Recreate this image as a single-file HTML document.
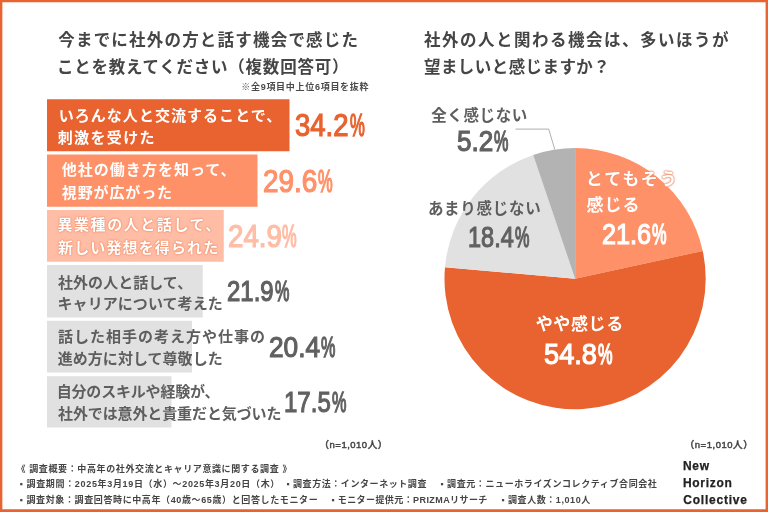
<!DOCTYPE html>
<html lang="ja">
<head>
<meta charset="utf-8">
<title>調査概要：中高年の社外交流とキャリア意識に関する調査</title>
<style>
html,body{margin:0;padding:0;background:#fff;}
body{width:768px;height:512px;overflow:hidden;position:relative;
 font-family:"Liberation Sans","Noto Sans CJK JP",sans-serif;color:#4a4a4a;}
#frame{position:absolute;left:0;top:0;width:768px;height:512px;box-sizing:border-box;
 background:#fff;}
.t{position:absolute;white-space:nowrap;line-height:1;}
.num{position:absolute;white-space:nowrap;line-height:1;font-family:"Liberation Sans",sans-serif;font-weight:700;transform-origin:0 0;}
svg{position:absolute;left:0;top:0;}
</style>
</head>
<body>
<div id="frame"></div>

<!-- bars + pie -->
<svg width="768" height="512" viewBox="0 0 768 512">
 <path d="M0,0H768V512H0Z M2.35,2.3V509.3H765.6V2.3Z" fill="#e8632f" fill-rule="evenodd"/>
 <g id="bars">
  <rect x="47" y="99.25" width="242.5" height="52.00" fill="#e8632f"/>
  <rect x="47" y="154.5" width="210.5" height="52.25" fill="#ff9169"/>
  <rect x="47" y="210" width="176.75" height="51.75" fill="#ffbda6"/>
  <rect x="47" y="265" width="155.75" height="52.50" fill="#e1e1e1"/>
  <rect x="47" y="320.75" width="145" height="51.75" fill="#e1e1e1"/>
  <rect x="47" y="376.25" width="124.5" height="51.25" fill="#e1e1e1"/>
 </g>
 <g id="pie">
  <path d="M575.1,278.65 L575.10,148.05 A130.6,130.6 0 0 1 702.73,250.96 Z" fill="#ff9169"/>
  <path d="M575.1,278.65 L702.73,250.96 A130.6,130.6 0 1 1 445.00,267.18 Z" fill="#e8632f"/>
  <path d="M575.1,278.65 L445.00,267.18 A130.6,130.6 0 0 1 533.18,154.96 Z" fill="#e1e1e1"/>
  <path d="M575.1,278.65 L533.18,154.96 A130.6,130.6 0 0 1 575.10,148.05 Z" fill="#b3b3b3"/>
 </g>
 <polyline points="515.6,129.1 548.7,129.1 554.8,149.5" fill="none" stroke="#8c8c8c" stroke-width="0.7"/>
</svg>

<!-- numerals -->
<div class="num" style="left:294.90px;top:111.03px;font-size:30.74px;transform:scaleX(0.8937);color:#e8632f;font-weight:400;-webkit-text-stroke:1.2px">34.2</div>
<div class="num" style="left:349.55px;top:111.03px;font-size:30.74px;transform:scaleX(0.5421);color:#e8632f;font-weight:400;-webkit-text-stroke:1.5px">%</div>
<div class="num" style="left:262.95px;top:166.20px;font-size:30.47px;transform:scaleX(0.9152);color:#ff9169;font-weight:400;-webkit-text-stroke:1.2px">29.6</div>
<div class="num" style="left:318.18px;top:166.20px;font-size:30.47px;transform:scaleX(0.5424);color:#ff9169;font-weight:400;-webkit-text-stroke:1.5px">%</div>
<div class="num" style="left:227.50px;top:221.00px;font-size:30.47px;transform:scaleX(0.9091);color:#ffbda6;font-weight:400;-webkit-text-stroke:1.2px">24.9</div>
<div class="num" style="left:282.38px;top:221.00px;font-size:30.47px;transform:scaleX(0.5424);color:#ffbda6;font-weight:400;-webkit-text-stroke:1.5px">%</div>
<div class="num" style="left:227.05px;top:276.23px;font-size:30.07px;transform:scaleX(0.7972);color:#616161;font-weight:400;-webkit-text-stroke:1.2px">21.9</div>
<div class="num" style="left:274.87px;top:276.23px;font-size:30.07px;transform:scaleX(0.5403);color:#616161;font-weight:400;-webkit-text-stroke:1.5px">%</div>
<div class="num" style="left:268.75px;top:332.23px;font-size:30.07px;transform:scaleX(0.8732);color:#616161;font-weight:400;-webkit-text-stroke:1.2px">20.4</div>
<div class="num" style="left:321.32px;top:332.23px;font-size:30.07px;transform:scaleX(0.5403);color:#616161;font-weight:400;-webkit-text-stroke:1.5px">%</div>
<div class="num" style="left:283.85px;top:385.73px;font-size:30.41px;transform:scaleX(0.7902);color:#616161;font-weight:400;-webkit-text-stroke:1.2px">17.5</div>
<div class="num" style="left:331.77px;top:385.73px;font-size:30.41px;transform:scaleX(0.5352);color:#616161;font-weight:400;-webkit-text-stroke:1.5px">%</div>
<div class="num" style="left:456.60px;top:125.72px;font-size:30.07px;transform:scaleX(0.8682);color:#616161;font-weight:400;-webkit-text-stroke:1.2px">5.2</div>
<div class="num" style="left:493.87px;top:125.72px;font-size:30.07px;transform:scaleX(0.5403);color:#616161;font-weight:400;-webkit-text-stroke:1.5px">%</div>
<div class="num" style="left:467.65px;top:222.28px;font-size:29.93px;transform:scaleX(0.7861);color:#616161;font-weight:400;-webkit-text-stroke:1.2px">18.4</div>
<div class="num" style="left:514.93px;top:222.28px;font-size:29.93px;transform:scaleX(0.543);color:#616161;font-weight:400;-webkit-text-stroke:1.5px">%</div>
<div class="num" style="left:602.05px;top:219.30px;font-size:30.2px;transform:scaleX(0.8346);color:#fff;font-weight:400;-webkit-text-stroke:1.2px">21.6</div>
<div class="num" style="left:652.20px;top:219.30px;font-size:30.2px;transform:scaleX(0.5427);color:#fff;font-weight:400;-webkit-text-stroke:1.5px">%</div>
<div class="num" style="left:544.30px;top:339.25px;font-size:30.34px;transform:scaleX(0.8969);color:#fff;font-weight:400;-webkit-text-stroke:1.2px">54.8</div>
<div class="num" style="left:598.44px;top:339.25px;font-size:30.34px;transform:scaleX(0.54);color:#fff;font-weight:400;-webkit-text-stroke:1.5px">%</div>

<!-- text -->
<div class="t" style="left:58.25px;top:32.35px;font-size:16.5px;font-weight:700;color:#454545;letter-spacing:1.203px;">今までに社外の方と話す機会で感じた</div>
<div class="t" style="left:57.00px;top:59.12px;font-size:16.5px;font-weight:700;color:#454545;letter-spacing:0.766px;">ことを教えてください（複数回答可）</div>
<div class="t" style="left:241.25px;top:82.75px;font-size:9px;font-weight:700;color:#4a4a4a;letter-spacing:0.712px;">※全9項目中上位6項目を抜粋</div>
<div class="t" style="left:424.00px;top:32.48px;font-size:16.5px;font-weight:700;color:#454545;letter-spacing:1.506px;">社外の人と関わる機会は、多いほうが</div>
<div class="t" style="left:424.00px;top:59.20px;font-size:16.5px;font-weight:700;color:#454545;letter-spacing:0.43px;">望ましいと感じますか？</div>
<div class="t" style="left:58.70px;top:108.25px;font-size:15px;font-weight:700;color:#fff;letter-spacing:1.042px;">いろんな人と交流することで、</div>
<div class="t" style="left:57.75px;top:130.43px;font-size:15px;font-weight:700;color:#fff;letter-spacing:1.35px;">刺激を受けた</div>
<div class="t" style="left:61.75px;top:162.43px;font-size:15px;font-weight:700;color:#fff;letter-spacing:1.025px;">他社の働き方を知って、</div>
<div class="t" style="left:61.75px;top:185.38px;font-size:15px;font-weight:700;color:#fff;letter-spacing:0.875px;">視野が広がった</div>
<div class="t" style="left:57.50px;top:216.75px;font-size:15px;font-weight:700;color:#fff;letter-spacing:1.556px;text-shadow:0 0 1px #ef7d52,0 0 1.5px #f08359,0 0 3px #f5a080;">異業種の人と話して、</div>
<div class="t" style="left:58.00px;top:240.25px;font-size:15px;font-weight:700;color:#fff;letter-spacing:1.139px;text-shadow:0 0 1px #ef7d52,0 0 1.5px #f08359,0 0 3px #f5a080;">新しい発想を得られた</div>
<div class="t" style="left:58.00px;top:275.05px;font-size:15px;font-weight:700;color:#5e5e5e;letter-spacing:0.044px;">社外の人と話して、</div>
<div class="t" style="left:57.50px;top:296.02px;font-size:15px;font-weight:700;color:#5e5e5e;letter-spacing:0.065px;">キャリアについて考えた</div>
<div class="t" style="left:58.00px;top:329.45px;font-size:15px;font-weight:700;color:#5e5e5e;letter-spacing:1.0px;">話した相手の考え方や仕事の</div>
<div class="t" style="left:57.75px;top:350.73px;font-size:15px;font-weight:700;color:#5e5e5e;letter-spacing:0.04px;">進め方に対して尊敬した</div>
<div class="t" style="left:56.75px;top:383.88px;font-size:15px;font-weight:700;color:#5e5e5e;letter-spacing:-0.195px;">自分のスキルや経験が、</div>
<div class="t" style="left:58.00px;top:405.93px;font-size:15px;font-weight:700;color:#5e5e5e;letter-spacing:-0.111px;">社外では意外と貴重だと気づいた</div>
<div class="t" style="left:431.25px;top:108.00px;font-size:15.5px;font-weight:700;color:#5e5e5e;letter-spacing:0.6px;">全く感じない</div>
<div class="t" style="left:427.90px;top:201.15px;font-size:15.5px;font-weight:700;color:#5e5e5e;letter-spacing:0.733px;">あまり感じない</div>
<div class="t" style="left:585.75px;top:171.28px;font-size:17px;font-weight:700;color:#fff;letter-spacing:1.938px;text-shadow:0 0 1px #ef7d52,0 0 1px #ef7d52,0 0 1.5px #f08359,0 0 3px #f5a080;">とてもそう</div>
<div class="t" style="left:586.50px;top:197.38px;font-size:17px;font-weight:700;color:#fff;letter-spacing:1.0px;">感じる</div>
<div class="t" style="left:535.75px;top:316.27px;font-size:17px;font-weight:700;color:#fff;letter-spacing:0.625px;">やや感じる</div>
<div class="t" style="left:319.55px;top:439.50px;font-size:9.5px;font-weight:500;color:#444;letter-spacing:0.5px;-webkit-text-stroke:.45px;">（n=1,010人）</div>
<div class="t" style="left:684.75px;top:439.50px;font-size:9.5px;font-weight:500;color:#444;letter-spacing:0.533px;-webkit-text-stroke:.45px;">（n=1,010人）</div>
<div class="t" style="left:16.50px;top:464.77px;font-size:9px;font-weight:700;color:#444;letter-spacing:0.619px;">《 調査概要：中高年の社外交流とキャリア意識に関する調査 》</div>
<div class="t" style="left:19.50px;top:480.10px;font-size:9px;font-weight:700;color:#444;letter-spacing:0.668px;">▪ 調査期間：2025年3月19日（水）～2025年3月20日（木）</div>
<div class="t" style="left:286.20px;top:480.10px;font-size:9px;font-weight:700;color:#444;letter-spacing:0.57px;">▪ 調査方法：インターネット調査</div>
<div class="t" style="left:440.20px;top:480.10px;font-size:9px;font-weight:700;color:#444;letter-spacing:0.598px;">▪ 調査元：ニューホライズンコレクティブ合同会社</div>
<div class="t" style="left:19.50px;top:495.60px;font-size:9px;font-weight:700;color:#444;letter-spacing:0.62px;">▪ 調査対象：調査回答時に中高年（40歳～65歳）と回答したモニター</div>
<div class="t" style="left:331.20px;top:495.60px;font-size:9px;font-weight:700;color:#444;letter-spacing:0.421px;">▪ モニター提供元：PRIZMAリサーチ</div>
<div class="t" style="left:501.20px;top:495.60px;font-size:9px;font-weight:700;color:#444;letter-spacing:0.567px;">▪ 調査人数：1,010人</div>
<div class="t" style="left:682.95px;top:460.30px;font-size:12px;font-weight:700;color:#222;letter-spacing:.7px;font-family:'Liberation Sans',sans-serif;-webkit-text-stroke:.25px;">New</div>
<div class="t" style="left:682.95px;top:476.65px;font-size:12px;font-weight:700;color:#222;letter-spacing:.7px;font-family:'Liberation Sans',sans-serif;-webkit-text-stroke:.25px;">Horizon</div>
<div class="t" style="left:683.20px;top:493.75px;font-size:12px;font-weight:700;color:#222;letter-spacing:0.789px;font-family:'Liberation Sans',sans-serif;-webkit-text-stroke:.25px;">Collective</div>

</body>
</html>
